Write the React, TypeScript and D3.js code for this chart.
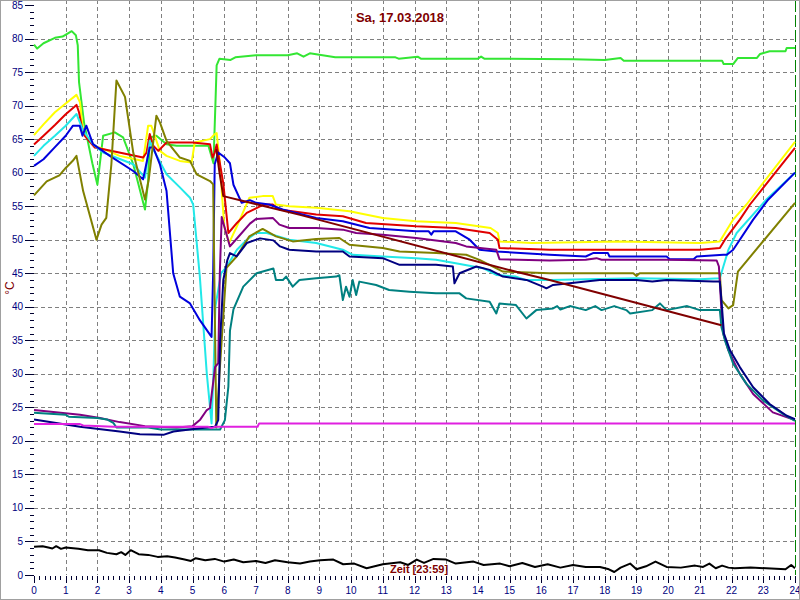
import React from "react";
import * as d3 from "d3";

const title = "Sa, 17.03.2018";
const xLabel = "Zeit [23:59]";
const yLabel = "°C";
const xTicks = d3.range(0, 25);
const yTicks = d3.range(0, 86, 5);

const greenH = [0, 0.1, 0.3, 0.66, 0.9, 1.19, 1.32, 1.38, 1.42, 1.58, 1.84, 2.0, 2.18, 2.55, 2.81, 3.13, 3.5, 3.6, 3.65, 3.86, 4.18, 4.5, 5.0, 5.5, 5.66, 5.72, 5.76, 5.85, 6.2, 6.35, 7.0, 8.0, 8.3, 8.5, 8.7, 9.5, 11.4, 11.5, 12.1, 12.2, 14.0, 14.1, 14.2, 15.0, 17.0, 18.0, 18.5, 18.6, 21.7, 21.75, 22.05, 22.2, 22.8, 22.9, 23.2, 23.7, 23.74, 24];
const greenV = [79.1, 78.5, 79.3, 80.1, 80.3, 81.1, 80.5, 79, 73.5, 67.4, 61.4, 58.2, 65.5, 66, 65.25, 61.25, 54.5, 58.75, 65.25, 65.5, 64.25, 64, 64, 64, 61.4, 70, 76, 77, 76.8, 77.2, 77.5, 77.5, 77.8, 77.3, 77.8, 77.2, 77.2, 77, 77.3, 77, 77, 77.3, 77, 77, 76.9, 76.8, 77.1, 76.7, 76.7, 76.2, 76.2, 77.1, 77.1, 77.7, 78.1, 78.1, 78.6, 78.6];

const yellowH = [0, 0.3, 0.66, 1.0, 1.34, 1.45, 1.55, 1.92, 2.2, 2.7, 3.44, 3.6, 3.7, 3.97, 4.18, 4.6, 4.97, 5.07, 5.55, 5.7, 5.76, 5.85, 6.0, 6.15, 6.4, 6.79, 7.21, 7.53, 7.63, 8.05, 8.9, 9.95, 11, 12.05, 13.3, 14.4, 14.63, 14.68, 15.7, 18.47, 21.0, 21.63, 21.79, 22.05, 22.47, 24];
const yellowV = [65.6, 67.2, 69, 70.3, 71.6, 70.5, 66, 64, 63.5, 62.5, 61.75, 67, 67, 63.25, 62.5, 61.75, 61.5, 64.5, 65, 65.75, 65.9, 62, 52, 49.5, 52, 56.25, 56.5, 56.5, 55.25, 55, 54.75, 54.25, 53.25, 52.75, 52.5, 51.75, 51, 49.75, 49.5, 49.75, 49.5, 49.75, 51, 53, 55.25, 64.6];

const redH = [0, 0.3, 0.66, 1.0, 1.34, 1.42, 1.5, 1.6, 1.92, 2.5, 3.44, 3.55, 3.65, 3.76, 3.92, 4.18, 5.0, 5.55, 5.63, 5.7, 5.76, 5.97, 6.13, 6.4, 6.71, 7.22, 7.53, 7.74, 8.9, 9.74, 10.47, 12.05, 13.3, 14.37, 14.63, 14.68, 16.26, 21.0, 21.63, 21.79, 22.26, 22.58, 24];
const redV = [64.2, 65.5, 67.1, 68.7, 70.1, 69, 67, 65.5, 63.75, 63.2, 62.25, 63, 65.75, 64, 63.25, 64.5, 64.5, 64.25, 62.25, 63, 64.2, 58.4, 51, 52.5, 54, 55.2, 55.25, 54.5, 53.75, 53.5, 52.5, 52, 51.75, 51, 50, 48.75, 48.5, 48.5, 48.75, 50, 53, 55.25, 63.7];

const cyanH = [0, 0.3, 0.66, 1.0, 1.34, 1.55, 1.86, 2.18, 3.13, 3.5, 3.65, 3.76, 4.18, 4.6, 4.92, 5.02, 5.23, 5.45, 5.6, 5.66, 5.72, 5.9, 6.08, 6.4, 6.71, 7.0, 7.34, 7.76, 8.05, 8.9, 9.74, 10.05, 11, 12.05, 12.68, 13.3, 14.16, 14.58, 15.2, 15.5, 16.26, 19, 21.0, 21.63, 21.74, 21.9, 22.16, 23.1, 24];
const cyanV = [62.5, 64, 65.5, 67, 68.75, 66.25, 64.25, 63, 61.25, 59.25, 64.75, 63.5, 59.75, 57.8, 56.25, 55.25, 44.5, 30, 22.6, 30, 40, 45, 46, 48.5, 50, 51, 51, 50.4, 50, 49.5, 48.5, 47.75, 47.5, 47.25, 47, 46.5, 45.75, 44.75, 44.5, 44, 44, 44.25, 44.1, 44.25, 46, 48.5, 51, 56, 60];

const blueH = [0, 0.3, 0.66, 1.0, 1.23, 1.44, 1.53, 1.65, 1.86, 2.39, 3.13, 3.44, 3.65, 3.76, 3.97, 4.18, 4.39, 4.45, 4.6, 4.92, 5.23, 5.6, 5.65, 5.7, 5.81, 6.02, 6.18, 6.29, 6.55, 6.81, 7.0, 7.42, 7.84, 8.9, 9.74, 10.58, 12.05, 12.45, 12.53, 12.6, 13.3, 13.74, 14.05, 14.58, 16.26, 17.4, 17.63, 18.1, 18.15, 19.95, 20.05, 20.8, 20.9, 21.74, 21.85, 22.05, 22.68, 23.16, 24];
const blueV = [61, 62, 63.8, 65.5, 67, 67, 65.5, 67, 64.25, 62.5, 60.25, 59, 63.75, 63.75, 61.25, 57.25, 45, 44, 41.5, 40.5, 38, 35.5, 45, 61.25, 63, 62.25, 61.4, 58.2, 55.5, 55.9, 55.5, 55.25, 54.5, 53.25, 52.75, 51.75, 51.25, 51.25, 50.75, 51.25, 51.25, 50, 48.5, 48.25, 47.75, 47.5, 48, 48, 47.5, 47.5, 47.1, 47.1, 47.5, 47.75, 47.75, 48.5, 53, 56, 60];

const oliveH = [0, 0.4, 0.8, 1.0, 1.23, 1.34, 1.55, 1.97, 2.13, 2.28, 2.44, 2.6, 2.87, 3.13, 3.5, 3.62, 3.86, 3.97, 4.18, 4.6, 4.92, 5.13, 5.55, 5.65, 5.7, 5.75, 5.85, 6.07, 6.39, 6.79, 7.21, 7.63, 8.16, 8.9, 9.63, 9.95, 11, 11.53, 12.68, 13.63, 14.05, 14.79, 16.26, 18.9, 19.0, 19.1, 21.63, 21.68, 21.9, 22.05, 22.2, 24];
const oliveV = [56.6, 58.7, 59.6, 60.7, 61.8, 62.5, 57.25, 50, 52.25, 53.25, 61.25, 73.75, 71.3, 63, 56, 59, 68.5, 67.5, 64.75, 62.25, 61.75, 59.75, 58.75, 58.25, 40, 22, 30, 45.8, 47.5, 50.5, 51.6, 50.5, 49.75, 50.1, 50.25, 49.25, 48.75, 48.25, 48, 47.75, 47, 45.25, 45, 45, 44.6, 45, 45, 41, 39.75, 40.25, 45.25, 55.5];

const purpleH = [0, 1.45, 2.08, 2.7, 3.5, 4.5, 5.0, 5.23, 5.45, 5.55, 5.71, 5.81, 5.86, 5.92, 6.0, 6.18, 6.44, 6.81, 7.0, 7.53, 7.74, 8.05, 8.9, 9.74, 10.16, 11, 12.05, 13.3, 13.63, 14.58, 14.68, 16.26, 17.4, 17.74, 17.9, 19.95, 21.53, 21.6, 21.68, 21.74, 21.9, 22.26, 22.68, 23.3, 24];
const purpleV = [24.6, 23.9, 23.4, 22.8, 22.2, 22, 22.2, 23.1, 24.6, 24.9, 31, 31.6, 45, 53.4, 52, 49, 50.4, 52.4, 53.1, 53.25, 52.25, 51.75, 51.75, 51.5, 51, 50.75, 50.25, 49.5, 49, 48.5, 47.1, 46.9, 47, 47.25, 47, 47, 46.9, 46, 39.5, 36, 33.5, 30, 27, 24.25, 23.1];

const tealH = [0, 1.0, 1.1, 2.0, 2.3, 2.5, 2.6, 3.6, 4.0, 5.23, 5.87, 6.02, 6.13, 6.18, 6.29, 6.6, 7.02, 7.55, 7.63, 7.85, 7.95, 8.16, 8.37, 8.9, 9.53, 9.63, 9.74, 9.84, 9.95, 10.05, 10.16, 10.26, 10.79, 11.2, 11.84, 12.68, 13.42, 13.63, 14.37, 14.58, 14.68, 15.2, 15.53, 15.84, 16.37, 16.5, 16.6, 16.9, 17.4, 17.7, 17.9, 18.3, 18.68, 18.8, 19.5, 19.74, 19.95, 20.6, 21.0, 21.63, 21.68, 21.79, 22.05, 22.47, 23.0, 23.63, 24];
const tealV = [24.2, 23.9, 23.6, 23.4, 23.2, 22.7, 22.0, 22.0, 21.7, 21.7, 21.7, 23.1, 28.1, 36.4, 39.6, 43, 45, 45.7, 44, 44, 44.5, 43, 44, 44.25, 44.5, 44.7, 41, 43, 41.5, 44, 41.75, 43.75, 43.25, 42.5, 42.25, 42, 42, 41.25, 40.75, 39, 40.5, 40.25, 38.25, 39.5, 39.75, 40.1, 39.6, 40.1, 39.5, 40.1, 39.5, 40.1, 39.5, 39, 39.5, 40.5, 39.5, 40.1, 39.5, 39.5, 37, 35, 31.5, 28.5, 26, 24, 23];

const navyH = [0, 1.45, 2.7, 3.34, 4.08, 4.4, 5.23, 5.71, 5.81, 5.87, 5.97, 6.1, 6.18, 6.39, 6.71, 7.13, 7.55, 7.76, 8.05, 8.9, 9.74, 9.95, 11, 11.53, 12.68, 13.21, 13.26, 13.42, 13.95, 14.37, 14.79, 15.53, 16.05, 16.16, 16.37, 17.84, 19, 19.5, 19.95, 21.42, 21.63, 21.68, 21.76, 21.95, 22.26, 22.68, 23.2, 23.74, 24];
const navyV = [23.2, 22.1, 21.4, 21, 20.9, 21.4, 21.9, 22.1, 23.1, 35, 44, 47, 48, 47.5, 49.5, 50.2, 49.9, 49, 48.5, 48.25, 48.25, 47.5, 47.25, 46.25, 46.25, 46, 43.5, 45, 46, 45.5, 44.5, 44, 43, 42.75, 43.25, 44, 44, 43.75, 44, 43.75, 43.75, 41, 36, 33.5, 31, 28, 25.5, 23.75, 23.25];

const magentaH = [0, 1.45, 1.55, 2.5, 5.5, 5.6, 5.7, 5.8, 7.05, 7.1, 24];
const magentaV = [22.5, 22.5, 22.3, 22.1, 22.1, 21.9, 22.1, 22.1, 22.1, 22.6, 22.6];

const maroonH = [5.75, 5.85, 5.97, 8.39, 15.3, 16.26, 21.68];
const maroonV = [63.5, 60, 56.5, 53.7, 45.1, 44, 37.25];

const blackH = [0, 0.27, 0.45, 0.58, 0.7, 0.85, 1.0, 1.4, 1.7, 2.05, 2.3, 2.6, 2.75, 2.88, 3.05, 3.3, 3.6, 3.9, 4.2, 4.45, 4.75, 4.95, 5.1, 5.4, 5.7, 6.0, 6.3, 6.6, 7.0, 7.3, 7.6, 8.0, 8.39, 8.7, 9.02, 9.44, 9.75, 10.1, 10.49, 11.0, 11.55, 11.8, 12.07, 12.3, 12.6, 13.0, 13.3, 13.86, 14.18, 14.7, 15.0, 15.4, 15.8, 16.2, 16.6, 17.0, 17.4, 17.85, 18.1, 18.3, 18.5, 18.8, 19.0, 19.3, 19.6, 19.95, 20.4, 20.85, 21.1, 21.3, 21.5, 21.7, 21.9, 22.1, 22.6, 23.1, 23.7, 23.88, 24];
const blackV = [4.2, 4.3, 4.1, 3.95, 4.3, 3.9, 4.1, 3.9, 3.7, 3.7, 3.3, 3.1, 3.4, 3.0, 3.7, 3.1, 3.0, 2.7, 2.8, 2.6, 2.3, 2.1, 2.5, 2.2, 2.4, 2.0, 2.3, 1.9, 2.1, 1.8, 2.2, 1.9, 1.7, 2.0, 2.2, 2.3, 1.6, 1.7, 1.0, 1.6, 1.9, 1.5, 2.3, 1.8, 2.4, 2.3, 1.7, 2.0, 1.5, 1.7, 1.3, 1.8, 1.2, 1.6, 1.1, 1.5, 1.2, 1.2, 0.9, 0.45, 1.1, 1.7, 0.85, 1.3, 2.0, 1.2, 1.1, 1.4, 1.2, 1.7, 1.0, 1.4, 1.1, 1.0, 1.1, 1.0, 0.85, 1.5, 1.0];

const series = [
  { h: greenH, v: greenV, color: "#33e633" },
  { h: yellowH, v: yellowV, color: "#ffff00" },
  { h: redH, v: redV, color: "#e00000" },
  { h: cyanH, v: cyanV, color: "#22e8e8" },
  { h: blueH, v: blueV, color: "#0000dd" },
  { h: oliveH, v: oliveV, color: "#808000" },
  { h: purpleH, v: purpleV, color: "#800080" },
  { h: tealH, v: tealV, color: "#008080" },
  { h: navyH, v: navyV, color: "#000080" },
  { h: magentaH, v: magentaV, color: "#e020e0" },
  { h: maroonH, v: maroonV, color: "#800000" },
  { h: blackH, v: blackV, color: "#000000" },
];

export default function App() {
  const x = d3.scaleLinear().domain([0, 24]).range([34, 795]);
  const y = d3.scaleLinear().domain([0, 85]).range([575, 5]);
  const line = d3
    .line<[number, number]>()
    .x((d) => x(d[0]))
    .y((d) => y(d[1]));

  const minorX = d3.range(0, 24 * 6 + 1).map((i) => i / 6);
  const minorY = d3.range(0, 86);
  const font = "'Liberation Sans', Arial, sans-serif";

  return (
    <svg
      width={800}
      height={600}
      style={{ position: "absolute", left: 0, top: 0, background: "#fff" }}
    >
      <rect x={0} y={0} width={800} height={600} fill="#fff" />
      {yTicks
        .filter((t) => t > 0 && t < 85)
        .map((t) => (
          <line
            key={"hg" + t}
            x1={x(0)}
            x2={x(24)}
            y1={Math.round(y(t)) + 0.5}
            y2={Math.round(y(t)) + 0.5}
            stroke="#808080"
            strokeDasharray="4,3"
          />
        ))}
      {xTicks
        .filter((t) => t > 0 && t < 24)
        .map((t) => (
          <line
            key={"vg" + t}
            x1={Math.round(x(t)) + 0.5}
            x2={Math.round(x(t)) + 0.5}
            y1={0}
            y2={y(0)}
            stroke="#808080"
            strokeDasharray="4,3"
          />
        ))}
      <line
        x1={Math.round(x(24)) + 0.5}
        x2={Math.round(x(24)) + 0.5}
        y1={0}
        y2={y(0)}
        stroke="#008000"
        strokeDasharray="12,3"
      />
      {minorY.map((t) => (
        <line
          key={"yt" + t}
          x1={t % 5 === 0 ? 25 : 30}
          x2={34}
          y1={Math.round(y(t)) + 0.5}
          y2={Math.round(y(t)) + 0.5}
          stroke="#000030"
        />
      ))}
      {yTicks.map((t) => (
        <text
          key={"yl" + t}
          x={23}
          y={y(t) + 3.5}
          textAnchor="end"
          fontFamily={font}
          fontSize={10}
          fill="#000080"
        >
          {t}
        </text>
      ))}
      {minorX.map((t, i) => (
        <line
          key={"xt" + i}
          x1={Math.round(x(t)) + 0.5}
          x2={Math.round(x(t)) + 0.5}
          y1={576}
          y2={i % 6 === 0 ? 583 : 580}
          stroke="#000030"
        />
      ))}
      {xTicks.map((t) => (
        <text
          key={"xl" + t}
          x={x(t)}
          y={594}
          textAnchor="middle"
          fontFamily={font}
          fontSize={10}
          fill="#000080"
        >
          {t}
        </text>
      ))}
      {series.map((s, i) => (
        <path
          key={"s" + i}
          d={line(s.h.map((h, j) => [h, s.v[j]] as [number, number])) || ""}
          fill="none"
          stroke={s.color}
          strokeWidth={2}
          strokeLinejoin="round"
        />
      ))}
      <text
        x={400}
        y={22}
        textAnchor="middle"
        fontFamily={font}
        fontSize={13}
        fontWeight="bold"
        fill="#800000"
      >
        {title}
      </text>
      <text
        x={390}
        y={573}
        fontFamily={font}
        fontSize={11}
        fontWeight="bold"
        fill="#800000"
      >
        {xLabel}
      </text>
      <text
        transform="translate(14,288) rotate(-90)"
        textAnchor="middle"
        fontFamily={font}
        fontSize={12}
        fill="#800000"
      >
        {yLabel}
      </text>
      <rect
        x={0.5}
        y={0.5}
        width={799}
        height={599}
        fill="none"
        stroke="#a0a0a0"
      />
    </svg>
  );
}
